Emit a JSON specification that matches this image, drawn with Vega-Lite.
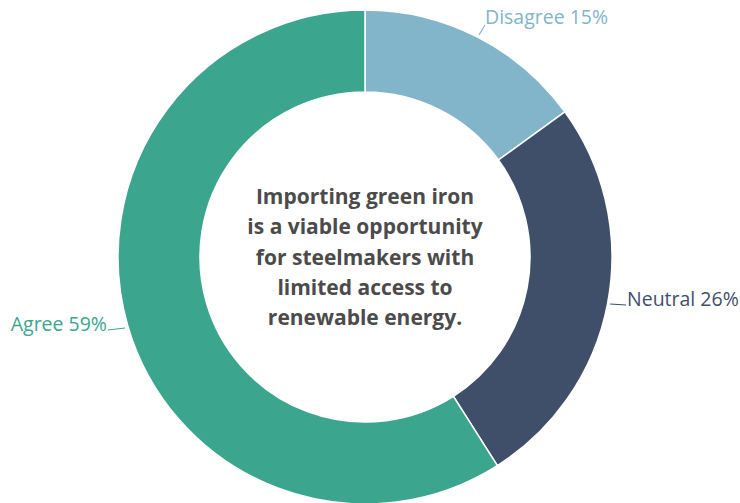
{
  "$schema": "https://vega.github.io/schema/vega-lite/v6.json",
  "width": 730,
  "height": 492,
  "autosize": "none",
  "padding": {"left": 0, "right": 10, "top": 11, "bottom": 0},
  "background": "white",
  "config": {"view": {"stroke": null}},
  "layer": [
    {
      "data": {"values": [
        {"category": "Disagree", "value": 15, "order": 1},
        {"category": "Neutral", "value": 26, "order": 2},
        {"category": "Agree", "value": 59, "order": 3}
      ]},
      "mark": {"type": "arc", "outerRadius": 247, "innerRadius": 165, "stroke": "white", "strokeWidth": 1.5},
      "encoding": {
        "theta": {"field": "value", "type": "quantitative", "stack": true},
        "order": {"field": "order", "type": "quantitative"},
        "color": {"field": "category", "type": "nominal", "legend": null,
          "scale": {"domain": ["Disagree", "Neutral", "Agree"], "range": ["#82b5c9", "#3f4f6a", "#3ca58e"]}}
      }
    },
    {
      "data": {"values": [
        {"category": "Disagree", "x": 120, "y": 232, "x2": 114, "y2": 222},
        {"category": "Neutral", "x": 245, "y": -47, "x2": 261, "y2": -48},
        {"category": "Agree", "x": -257, "y": -73, "x2": -240, "y2": -71}
      ]},
      "mark": {"type": "rule", "strokeWidth": 1.2},
      "encoding": {
        "x": {"field": "x", "type": "quantitative", "scale": {"domain": [-365, 365], "nice": false, "zero": false}, "axis": null},
        "y": {"field": "y", "type": "quantitative", "scale": {"domain": [-246, 246], "nice": false, "zero": false}, "axis": null},
        "x2": {"field": "x2"},
        "y2": {"field": "y2"},
        "color": {"field": "category", "type": "nominal", "legend": null}
      }
    },
    {
      "data": {"values": [
        {"category": "Disagree", "label": "Disagree 15%", "x": 120, "y": 239.5},
        {"category": "Neutral", "label": "Neutral 26%", "x": 262, "y": -43}
      ]},
      "mark": {"type": "text", "align": "left", "baseline": "middle", "font": "Open Sans", "fontSize": 19.5},
      "encoding": {
        "x": {"field": "x", "type": "quantitative"},
        "y": {"field": "y", "type": "quantitative"},
        "text": {"field": "label"},
        "color": {"field": "category", "type": "nominal", "legend": null}
      }
    },
    {
      "data": {"values": [
        {"category": "Agree", "label": "Agree 59%", "x": -258, "y": -68}
      ]},
      "mark": {"type": "text", "align": "right", "baseline": "middle", "font": "Open Sans", "fontSize": 19.5},
      "encoding": {
        "x": {"field": "x", "type": "quantitative"},
        "y": {"field": "y", "type": "quantitative"},
        "text": {"field": "label"},
        "color": {"field": "category", "type": "nominal", "legend": null}
      }
    },
    {
      "data": {"values": [
        {"x": 0, "y": 59, "label": ["Importing green iron", "is a viable opportunity", "for steelmakers with", "limited access to", "renewable energy."]}
      ]},
      "mark": {"type": "text", "align": "center", "baseline": "middle", "font": "Open Sans", "fontWeight": 700, "fontSize": 21, "lineHeight": 30.3, "color": "#4b4b4b"},
      "encoding": {
        "x": {"field": "x", "type": "quantitative"},
        "y": {"field": "y", "type": "quantitative"},
        "text": {"field": "label"}
      }
    }
  ]
}
